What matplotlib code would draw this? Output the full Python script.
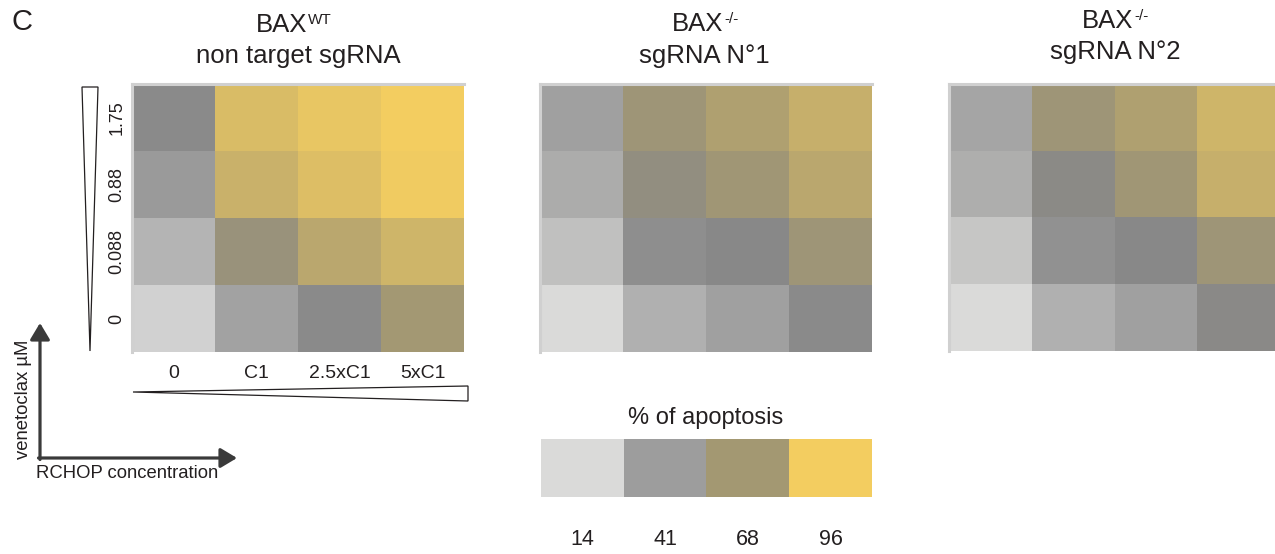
import matplotlib
matplotlib.use("Agg")
import matplotlib.pyplot as plt
import numpy as np
from matplotlib.colors import LinearSegmentedColormap, Normalize
from matplotlib.patches import Polygon

plt.rcParams['font.family'] = ['Liberation Sans', 'DejaVu Sans']
txt_color = '#231f20'

W, H = 1275, 554

# RCHOP doses (columns) and venetoclax doses (rows, bottom -> top)
rchop = ['0', 'C1', '2.5xC1', '5xC1']
veneto = ['0', '0.088', '0.88', '1.75']

# % of apoptosis, rows ordered as veneto (0 first)
wt_ntg = [[18, 39, 50, 68],
          [31, 62, 76, 83],
          [43, 81, 88, 95],
          [50, 87, 92, 96]]
ko_sg1 = [[14, 33, 40, 50],
          [26, 48, 51, 65],
          [35, 57, 66, 76],
          [40, 65, 72, 80]]
ko_sg2 = [[14, 33, 40, 52],
          [23, 47, 51, 65],
          [34, 53, 66, 80],
          [38, 65, 72, 83]]

legend_vals = [14, 41, 68, 96]

# colour scale: light grey -> grey -> dark grey -> khaki -> yellow
vmin, vmax = 14, 96
nodes = [(14, '#dadad9'), (41, '#9e9e9e'), (51, '#888888'), (68, '#a39873'), (96, '#f3cd60')]
cmap = LinearSegmentedColormap.from_list(
    'apopt', [((v - vmin) / (vmax - vmin), c) for v, c in nodes])
norm = Normalize(vmin, vmax)


def px_axes(left, top, w, h):
    return fig.add_axes([left / W, 1 - (top + h) / H, w / W, h / H])


def heat(left, top, w, h, vals, show_labels=False):
    ax = px_axes(left, top, w, h)
    ax.pcolormesh(np.arange(5), np.arange(5), np.array(vals), cmap=cmap, norm=norm)
    ax.set_xlim(0, 4)
    ax.set_ylim(0, 4)
    for s in ['bottom', 'right']:
        ax.spines[s].set_visible(False)
    for s in ['top', 'left']:
        ax.spines[s].set_color('#d0d0d0')
        ax.spines[s].set_linewidth(2.2)
    ax.tick_params(length=0)
    if show_labels:
        ax.set_xticks(np.arange(4) + 0.5)
        ax.set_xticklabels(rchop, fontsize=14, color=txt_color)
        ax.tick_params(axis='x', pad=9)
        ax.set_yticks(np.arange(4) + 0.5)
        ax.set_yticklabels(veneto, fontsize=13, color=txt_color, rotation=90, va='center')
        ax.tick_params(axis='y', pad=4.5)
    else:
        ax.set_xticks([])
        ax.set_yticks([])
    return ax


fig = plt.figure(figsize=(W / 100, H / 100), dpi=100)

ov = fig.add_axes([0, 0, 1, 1])
ov.set_xlim(0, W)
ov.set_ylim(H, 0)
ov.axis('off')

heat(132, 84, 332, 268, wt_ntg, show_labels=True)
heat(540, 84, 332, 268, ko_sg1)
heat(949, 84, 331, 267, ko_sg2)

# titles
ov.text(22, 22, 'C', fontsize=21, ha='center', va='center', color=txt_color)
titles = [(307, 25, 20, 'WT', 298, 56, 'non target sgRNA'),
          (723, 24, 19, '-/-', 704, 56, 'sgRNA N°1'),
          (1133, 21, 16, '-/-', 1115, 52, 'sgRNA N°2')]
for bx, by, sy, sup, lx, ly, line2 in titles:
    ov.text(bx, by, 'BAX', fontsize=18.5, ha='right', va='center', color=txt_color)
    ov.text(bx + 1, sy, sup, fontsize=11, ha='left', va='center', color=txt_color)
    ov.text(lx, ly, line2, fontsize=18.5, ha='center', va='center', color=txt_color)

# dose wedges
ov.add_patch(Polygon([(82, 87), (98, 87), (90, 351)], closed=True,
                     facecolor='white', edgecolor=txt_color, lw=0.9))
ov.add_patch(Polygon([(133, 392), (468, 386), (468, 401)], closed=True,
                     facecolor='white', edgecolor=txt_color, lw=0.9))

# axis arrows
arrow = dict(arrowstyle='-|>,head_length=1.0,head_width=0.6', mutation_scale=10,
             lw=2.3, color='#3a3a3a', shrinkA=0, shrinkB=0)
ov.annotate('', xy=(40, 323), xytext=(40, 459.5), arrowprops=arrow)
ov.annotate('', xy=(237, 458), xytext=(38.5, 458), arrowprops=arrow)
ov.text(24, 399, 'venetoclax µM', fontsize=13.3, rotation=90, ha='center', va='center',
        color=txt_color)
ov.text(36, 473, 'RCHOP concentration', fontsize=13.3, ha='left', va='center',
        color=txt_color)

# legend
lax = px_axes(541, 439, 331, 58)
lax.imshow([legend_vals], cmap=cmap, norm=norm, aspect='auto')
for s in lax.spines.values():
    s.set_visible(False)
lax.set_yticks([])
lax.set_xticks(np.arange(4))
lax.set_xticklabels([str(v) for v in legend_vals], fontsize=15.5, color=txt_color)
lax.tick_params(length=0, pad=23)
ov.text(706, 418, '% of apoptosis', fontsize=17, ha='center', va='center', color=txt_color)

plt.savefig('out.png', dpi=100)
